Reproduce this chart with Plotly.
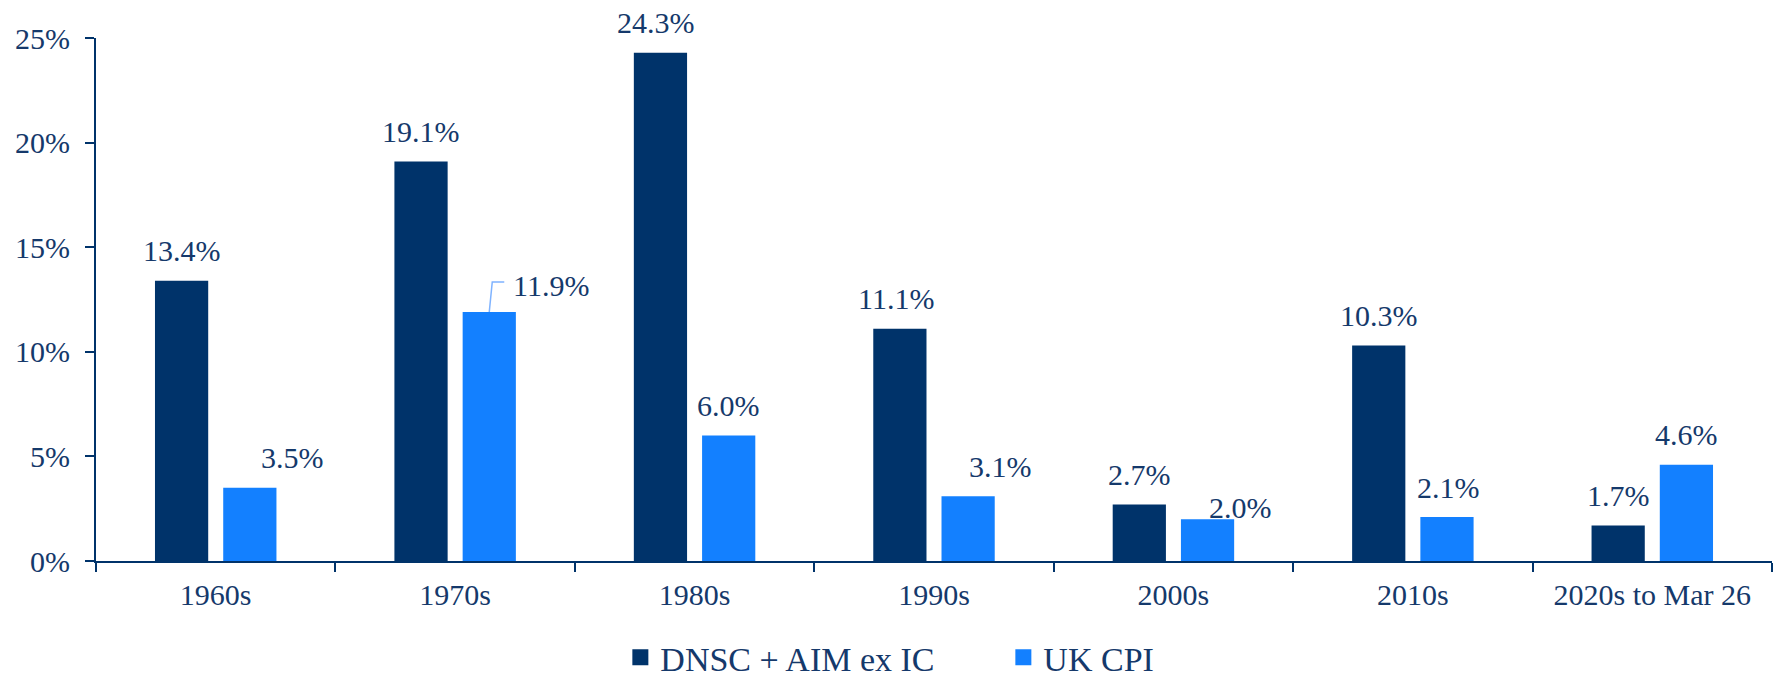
import plotly.graph_objects as go

categories = ["1960s", "1970s", "1980s", "1990s", "2000s", "2010s", "2020s to Mar 26"]
dnsc = [13.4, 19.1, 24.3, 11.1, 2.7, 10.3, 1.7]
cpi = [3.5, 11.9, 6.0, 3.1, 2.0, 2.1, 4.6]
series_names = ["DNSC + AIM ex IC", "UK CPI"]
y_ticks = [0, 5, 10, 15, 20, 25]
y_tick_text = ["0%", "5%", "10%", "15%", "20%", "25%"]

# label style offsets (pixels)
dnsc_dx = [0, 0, -4, -4, 0, 0, 0]
cpi_dx = [43, 62, 0, 32, 33, 2, 0]
cpi_dy = [30, 27, 30, 30, 12, 30, 30]

DARK = "#00336A"
LIGHT = "#1380FF"
TEXT = "#15396B"
FONT = "Liberation Serif, Times New Roman, Times, serif"

BARGAP = 0.43
GROUPGAP = 0.22
off = (1 - BARGAP) / 4  # center offset of each bar in category units

fig = go.Figure()
fig.add_trace(go.Bar(x=categories, y=dnsc, name=series_names[0], marker_color=DARK,
                     marker_line_width=0, showlegend=False))
fig.add_trace(go.Bar(x=categories, y=cpi, name=series_names[1], marker_color=LIGHT,
                     marker_line_width=0, showlegend=False))
# legend entries with larger square symbols
for nm, col in zip(series_names, [DARK, LIGHT]):
    fig.add_trace(go.Scatter(x=[None], y=[None], mode="markers", name=nm,
                             marker=dict(symbol="square", size=16, color=col)))

annotations = []
for i, v in enumerate(dnsc):
    annotations.append(dict(x=i - off, y=v, xref="x", yref="y", text=f"{v:.1f}%",
                            showarrow=False, yanchor="middle", xanchor="center",
                            xshift=dnsc_dx[i], yshift=30,
                            font=dict(family=FONT, size=30, color=TEXT)))
for i, v in enumerate(cpi):
    annotations.append(dict(x=i + off, y=v, xref="x", yref="y", text=f"{v:.1f}%",
                            showarrow=False, yanchor="middle", xanchor="center",
                            xshift=cpi_dx[i], yshift=cpi_dy[i],
                            font=dict(family=FONT, size=30, color=TEXT)))

# leader line for the 1970s CPI label
lead_i = 1
fig.add_shape(type="path", xref="x", yref="y", xsizemode="pixel", ysizemode="pixel",
              xanchor=lead_i + off, yanchor=cpi[lead_i],
              path="M0,0 L3,30 L15,30", line=dict(color="#7FB3FF", width=1.5))

fig.update_layout(
    width=1779, height=678,
    margin=dict(l=96, r=7, t=38, b=117),
    paper_bgcolor="white", plot_bgcolor="white",
    barmode="group", bargap=BARGAP, bargroupgap=GROUPGAP,
    font=dict(family=FONT, size=30, color=TEXT),
    annotations=annotations,
    legend=dict(orientation="h", xref="container", yref="container",
                x=0.564, xanchor="center", y=0.03, yanchor="middle",
                font=dict(family=FONT, size=34, color=TEXT),
                itemsizing="trace", tracegroupgap=0, entrywidth=338),
    xaxis=dict(type="category", showline=True, linecolor=DARK, linewidth=2,
               ticks="outside", tickson="boundaries", ticklen=9, tickwidth=2,
               tickcolor=DARK, showgrid=False, ticklabelstandoff=6,
               tickfont=dict(family=FONT, size=30, color=TEXT)),
    yaxis=dict(range=[0, 25], tickvals=y_ticks, ticktext=y_tick_text, showline=True,
               linecolor=DARK, linewidth=2, ticks="outside", ticklen=9, tickwidth=2,
               tickcolor=DARK, showgrid=False, zeroline=False, ticklabelstandoff=9,
               tickfont=dict(family=FONT, size=30, color=TEXT)),
)

fig.write_html("out.html")
